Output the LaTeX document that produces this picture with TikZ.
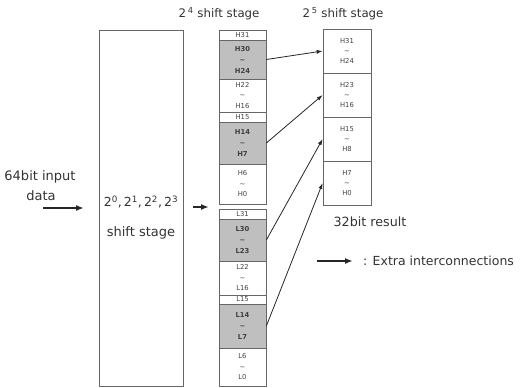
\documentclass[tikz,border=0pt]{standalone}
\usepackage{fontspec}
\setmainfont{DejaVu Sans}
\usetikzlibrary{arrows.meta}
\begin{document}
\begin{tikzpicture}[x=1pt,y=-1pt,
  txt/.style={text=black!80, inner sep=0pt},
  frame/.style={draw=black!60, line width=0.7pt},
  cell/.style={frame, inner sep=0pt, minimum width=47pt, text=black!75,
    align=center, font=\fontsize{6.8}{10.5}\selectfont},
  hot/.style={cell, fill=black!25, font=\fontsize{6.8}{11}\selectfont\bfseries},
  rcell/.style={cell, minimum width=48pt, minimum height=44pt, font=\fontsize{6.8}{10}\selectfont},
  conn/.style={line width=0.8pt, black!85, -{Latex[length=6pt,width=4pt]}},
  bigarrow/.style={line width=1.6pt, black!85, -{Latex[length=8pt,width=6pt]}}]
\useasboundingbox (0,0) rectangle (520,388);

% headers
\node[txt, font=\fontsize{11.8}{14}\selectfont] (hdA) at (219,14) {2\,\textsuperscript{4}\ shift stage};
\node[txt, font=\fontsize{11.8}{14}\selectfont] (hdB) at (343,14) {2\,\textsuperscript{5}\ shift stage};

% input
\node[txt, font=\fontsize{13}{15}\selectfont] (inA) at (40,177) {64bit input};
\node[txt, font=\fontsize{13}{15}\selectfont] (inB) at (41,196) {data};
\coordinate (inS) at (43,208);
\coordinate (inE) at (84,208);
\draw[bigarrow] (inS) -- (inE);

% first shift stages
\node[frame, minimum width=84pt, minimum height=356pt, inner sep=0pt] (big) at (141,208) {};
\node[txt, font=\fontsize{12.5}{15}\selectfont] (bigA) at (141,202)
  {2\textsuperscript{0},\,2\textsuperscript{1},\,2\textsuperscript{2},\,2\textsuperscript{3}};
\node[txt, font=\fontsize{13}{15}\selectfont] (bigB) at (141,233) {shift stage};
\coordinate (midS) at (193,207);
\coordinate (midE) at (209,207);
\draw[bigarrow] (midS) -- (midE);

% 2^4 stage, upper half
\node[cell, minimum height=10pt] (h31) at (242.5,35) {H31};
\node[hot, minimum height=39pt] (h30) at (242.5,59.5) {H30\\\textasciitilde\\H24};
\node[cell, minimum height=33pt] (h22) at (242.5,95.5) {H22\\\textasciitilde\\H16};
\node[cell, minimum height=10pt] (h15) at (242.5,117) {H15};
\node[hot, minimum height=42pt] (h14) at (242.5,143) {H14\\\textasciitilde\\H7};
\node[cell, minimum height=40pt] (h6) at (242.5,184) {H6\\\textasciitilde\\H0};

% 2^4 stage, lower half
\node[cell, minimum height=10pt] (l31) at (242.5,214) {L31};
\node[hot, minimum height=42pt] (l30) at (242.5,240) {L30\\\textasciitilde\\L23};
\node[cell, minimum height=34pt] (l22) at (242.5,278) {L22\\\textasciitilde\\L16};
\node[cell, minimum height=9pt] (l15) at (242.5,299.5) {L15};
\node[hot, minimum height=44pt] (l14) at (242.5,326) {L14\\\textasciitilde\\L7};
\node[cell, minimum height=38pt] (l6) at (242.5,367) {L6\\\textasciitilde\\L0};

% 2^5 stage
\node[rcell] (r1) at (347,51) {H31\\\textasciitilde\\H24};
\node[rcell] (r2) at (347,95) {H23\\\textasciitilde\\H16};
\node[rcell] (r3) at (347,139) {H15\\\textasciitilde\\H8};
\node[rcell] (r4) at (347,183) {H7\\\textasciitilde\\H0};
\node[txt, font=\fontsize{12.7}{15}\selectfont] (res) at (370,222) {32bit result};

% extra interconnections
\draw[conn] (h30.east) -- (r1.west);
\draw[conn] (h14.east) -- (r2.west);
\draw[conn] (l30.east) -- (r3.west);
\draw[conn] (l14.east) -- (r4.west);

% legend
\coordinate (lgS) at (317,261);
\coordinate (lgE) at (353,261);
\draw[bigarrow] (lgS) -- (lgE);
\node[txt, font=\fontsize{12.5}{15}\selectfont, anchor=west] (lgT) at (363,261) {: Extra interconnections};
\end{tikzpicture}
\end{document}
